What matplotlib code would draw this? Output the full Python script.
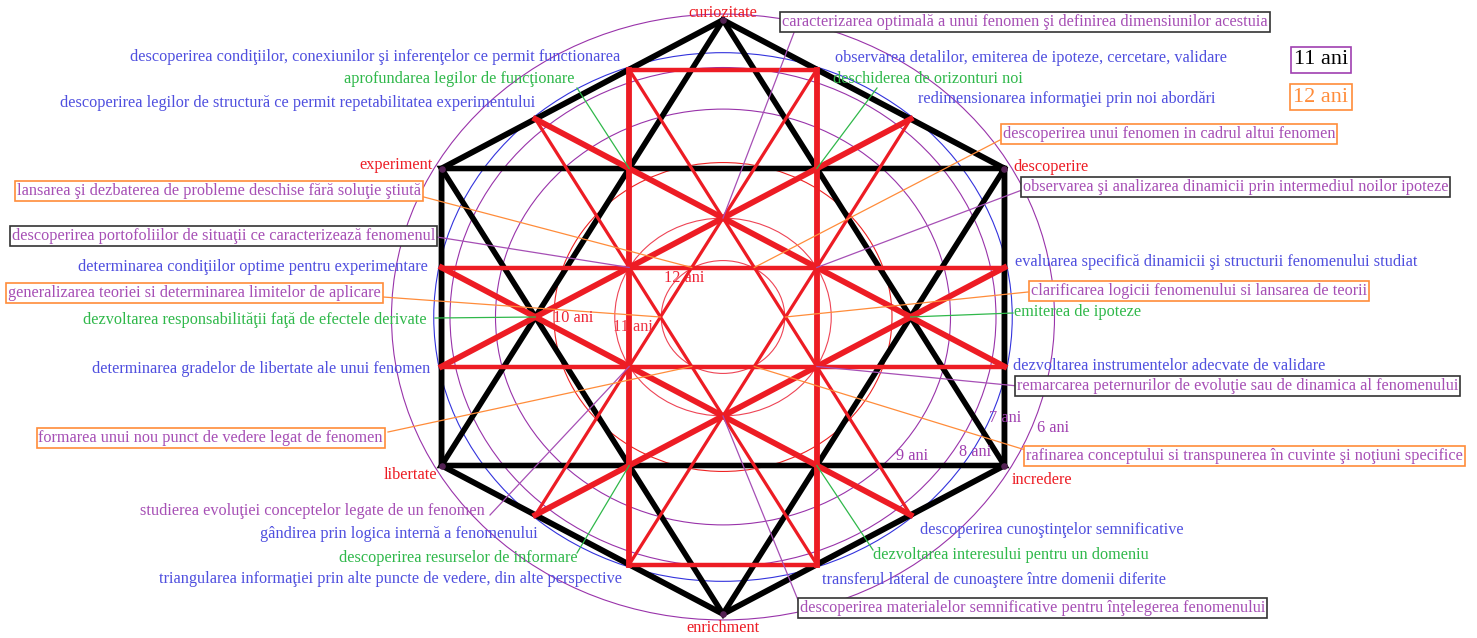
import numpy as np
import matplotlib
matplotlib.use("Agg")
import matplotlib.pyplot as plt
from matplotlib.patches import Ellipse

plt.rcParams['font.family'] = ['Liberation Serif', 'DejaVu Serif']

# --- date citite din desen ---
varfuri = ["curiozitate", "descoperire", "incredere", "enrichment", "libertate", "experiment"]
unghiuri_varfuri = [90, 30, -30, -90, -150, 150]

varste = ["6 ani", "7 ani", "8 ani", "9 ani", "10 ani", "11 ani", "12 ani"]
raze_varste = [1.02, 0.89, 0.84, 0.70, 0.52, 0.333, 0.19]

etichete_albastre = [
    "descoperirea condiţiilor, conexiunilor şi inferenţelor ce permit functionarea",
    "observarea detalilor, emiterea de ipoteze, cercetare, validare",
    "descoperirea legilor de structură ce permit repetabilitatea experimentului",
    "redimensionarea informaţiei prin noi abordări",
    "determinarea condiţiilor optime pentru experimentare",
    "evaluarea specifică dinamicii şi structurii fenomenului studiat",
    "determinarea gradelor de libertate ale unui fenomen",
    "dezvoltarea instrumentelor adecvate de validare",
    "gândirea prin logica internă a fenomenului",
    "descoperirea cunoştinţelor semnificative",
    "triangularea informaţiei prin alte puncte de vedere, din alte perspective",
    "transferul lateral de cunoaştere între domenii diferite",
]
etichete_verzi = [
    "aprofundarea legilor de funcţionare",
    "deschiderea de orizonturi noi",
    "dezvoltarea responsabilităţii faţă de efectele derivate",
    "emiterea de ipoteze",
    "descoperirea resurselor de informare",
    "dezvoltarea interesului pentru un domeniu",
]
unghiuri_verzi = [120, 60, 180, 0, 240, 300]

etichete_11 = [
    "caracterizarea optimală a unui fenomen şi definirea dimensiunilor acestuia",
    "observarea şi analizarea dinamicii prin intermediul noilor ipoteze",
    "descoperirea portofoliilor de situaţii ce caracterizează fenomenul",
    "remarcarea peternurilor de evoluţie sau de dinamica al fenomenului",
    "studierea evoluţiei conceptelor legate de un fenomen",
    "descoperirea materialelor semnificative pentru înţelegerea fenomenului",
]
unghiuri_11 = [90, 30, 150, -30, 210, 270]

etichete_12 = [
    "lansarea şi dezbaterea de probleme deschise fără soluţie ştiută",
    "descoperirea unui fenomen in cadrul altui fenomen",
    "generalizarea teoriei si determinarea limitelor de aplicare",
    "clarificarea logicii fenomenului si lansarea de teorii",
    "formarea unui nou punct de vedere legat de fenomen",
    "rafinarea conceptului si transpunerea în cuvinte şi noţiuni specifice",
]
unghiuri_12 = [120, 60, 180, 0, 240, 300]

# --- asezare (pixeli) ---
CX, CY, SX, SY = 723, 317, 325, 297

def P(x, y):
    return CX + SX * x, CY - SY * y

def polar(r, a):
    t = np.radians(a)
    return P(r * np.cos(t), r * np.sin(t))

poz_varfuri = [(723, 13, 'center'), (1013, 167, 'left'), (1012, 480, 'left'),
               (723, 628, 'center'), (437, 475, 'right'), (433, 165, 'right')]
poz_varste = [(1037, 428), (989, 418), (959, 452), (896, 456), (553, 318), (613, 327), (664, 278)]
cul_varste = ['#a040b0', '#a040b0', '#a040b0', '#a040b0', '#ee2233', '#ee3344', '#ee2233']
cul_cercuri = ['#9933aa', '#3333dd', '#9933aa', '#9933aa', '#ee2222', '#ee4455', '#ee4455']

poz_albastre = [(620, 57, 'right'), (835, 58, 'left'), (535, 103, 'right'), (918, 99, 'left'),
                (428, 267, 'right'), (1015, 262, 'left'), (430, 369, 'right'), (1013, 366, 'left'),
                (538, 534, 'right'), (920, 530, 'left'), (622, 579, 'right'), (822, 580, 'left')]
poz_verzi = [(575, 79, 'right'), (833, 79, 'left'), (427, 320, 'right'),
             (1014, 312, 'left'), (578, 558, 'right'), (873, 555, 'left')]
start_verzi = [(577, 88), (877, 88), (435, 318), (1013, 313), (577, 553), (873, 550)]

poz_11 = [(782, 22, 'left'), (1023, 187, 'left'), (435, 236, 'right'),
          (1017, 386, 'left'), (485, 511, 'right'), (800, 608, 'left')]
start_11 = [(795, 30), (1022, 190), (437, 237), (1018, 386), (490, 515), (800, 605)]
box_11 = [True, True, True, True, False, True]

poz_12 = [(421, 191, 'right'), (1003, 134, 'left'), (381, 293, 'right'),
          (1031, 291, 'left'), (383, 438, 'right'), (1026, 456, 'left')]
start_12 = [(420, 196), (1000, 140), (383, 297), (1028, 292), (388, 432), (1032, 452)]

ALBASTRU = '#4f4fdf'
VERDE = '#2fb84a'
MOV = '#a64fb5'
ROSU = '#ed1c24'
PORTOCALIU = '#ff8c3a'
FS = 11.7

fig = plt.figure(figsize=(14.77, 6.38), dpi=100)
ax = fig.add_axes([0, 0, 1, 1])
ax.set_xlim(0, 1477)
ax.set_ylim(638, 0)
ax.axis('off')

# cercurile varstelor
for r, c in zip(raze_varste, cul_cercuri):
    ax.add_patch(Ellipse((CX, CY), 2 * SX * r, 2 * SY * r, fill=False, ec=c, lw=0.8, zorder=1))

# hexagonul si steaua negre
V = [P(np.cos(np.radians(a)), np.sin(np.radians(a))) for a in unghiuri_varfuri]
hx = [v[0] for v in V] + [V[0][0]]
hy = [v[1] for v in V] + [V[0][1]]
ax.plot(hx, hy, color='black', lw=4.2, solid_joinstyle='miter', zorder=2)
for tri in ([0, 2, 4, 0], [1, 3, 5, 1]):
    ax.plot([V[i][0] for i in tri], [V[i][1] for i in tri], color='black', lw=4.0,
            solid_joinstyle='miter', zorder=2)

# liniile rosii
def rot(pts, a):
    t = np.radians(a)
    return [(x * np.cos(t) - y * np.sin(t), x * np.sin(t) + y * np.cos(t)) for x, y in pts]

d = 1 / (2 * np.sqrt(3))
for s in (-1, 1):
    vert = [(s * d, 5 / 6), (s * d, -5 / 6)]
    oriz = [(-np.sqrt(3) / 2, s / 6), (np.sqrt(3) / 2, s / 6)]
    for a in (0, 60, 120):
        seg = [P(*p) for p in rot(vert, a)]
        ax.plot([seg[0][0], seg[1][0]], [seg[0][1], seg[1][1]], color=ROSU, lw=4.2, zorder=3)
    for a, w in ((0, 3.2), (60, 2.3), (120, 2.3)):
        seg = [P(*p) for p in rot(oriz, a)]
        ax.plot([seg[0][0], seg[1][0]], [seg[0][1], seg[1][1]], color=ROSU, lw=w, zorder=3)
    seg = [P(-d, s * 5 / 6), P(d, s * 5 / 6)]
    ax.plot([seg[0][0], seg[1][0]], [seg[0][1], seg[1][1]], color=ROSU, lw=3.2, zorder=3)

# puncte in varfuri
ax.scatter(hx[:-1], hy[:-1], s=14, color='#552255', zorder=4)

# etichetele varfurilor
for t, (x, y, ha) in zip(varfuri, poz_varfuri):
    ax.text(x, y, t, color=ROSU, fontsize=FS, ha=ha, va='center', zorder=6)

for t, (x, y), c in zip(varste, poz_varste, cul_varste):
    ax.text(x, y, t, color=c, fontsize=FS, ha='left', va='center', zorder=6)

for t, (x, y, ha) in zip(etichete_albastre, poz_albastre):
    ax.text(x, y, t, color=ALBASTRU, fontsize=FS, ha=ha, va='center', zorder=6)

for t, (x, y, ha), st, a in zip(etichete_verzi, poz_verzi, start_verzi, unghiuri_verzi):
    ax.text(x, y, t, color=VERDE, fontsize=FS, ha=ha, va='center', zorder=6)
    e = polar(1 / np.sqrt(3), a)
    ax.plot([st[0], e[0]], [st[1], e[1]], color=VERDE, lw=0.9, zorder=5)

for t, (x, y, ha), st, a, b in zip(etichete_11, poz_11, start_11, unghiuri_11, box_11):
    kw = {}
    if b:
        kw['bbox'] = dict(boxstyle='square,pad=0.12', fc='white', ec='#333333', lw=1.2)
    ax.text(x, y, t, color=MOV, fontsize=FS, ha=ha, va='center', zorder=7, **kw)
    e = polar(1 / 3, a)
    ax.plot([st[0], e[0]], [st[1], e[1]], color=MOV, lw=0.9, zorder=5)

for t, (x, y, ha), st, a in zip(etichete_12, poz_12, start_12, unghiuri_12):
    ax.text(x, y, t, color=MOV, fontsize=FS, ha=ha, va='center', zorder=7,
            bbox=dict(boxstyle='square,pad=0.12', fc='white', ec=PORTOCALIU, lw=1.2))
    e = polar(1 / (3 * np.sqrt(3)), a)
    ax.plot([st[0], e[0]], [st[1], e[1]], color=PORTOCALIU, lw=0.9, zorder=5)

# legenda
ax.text(1321, 60, "11 ani", color='black', fontsize=16, ha='center', va='center',
        bbox=dict(boxstyle='square,pad=0.15', fc='white', ec='#a040b0', lw=1.2))
ax.text(1321, 97, "12 ani", color=PORTOCALIU, fontsize=16, ha='center', va='center',
        bbox=dict(boxstyle='square,pad=0.15', fc='white', ec=PORTOCALIU, lw=1.2))

fig.savefig("out.png", dpi=100, facecolor='white')
